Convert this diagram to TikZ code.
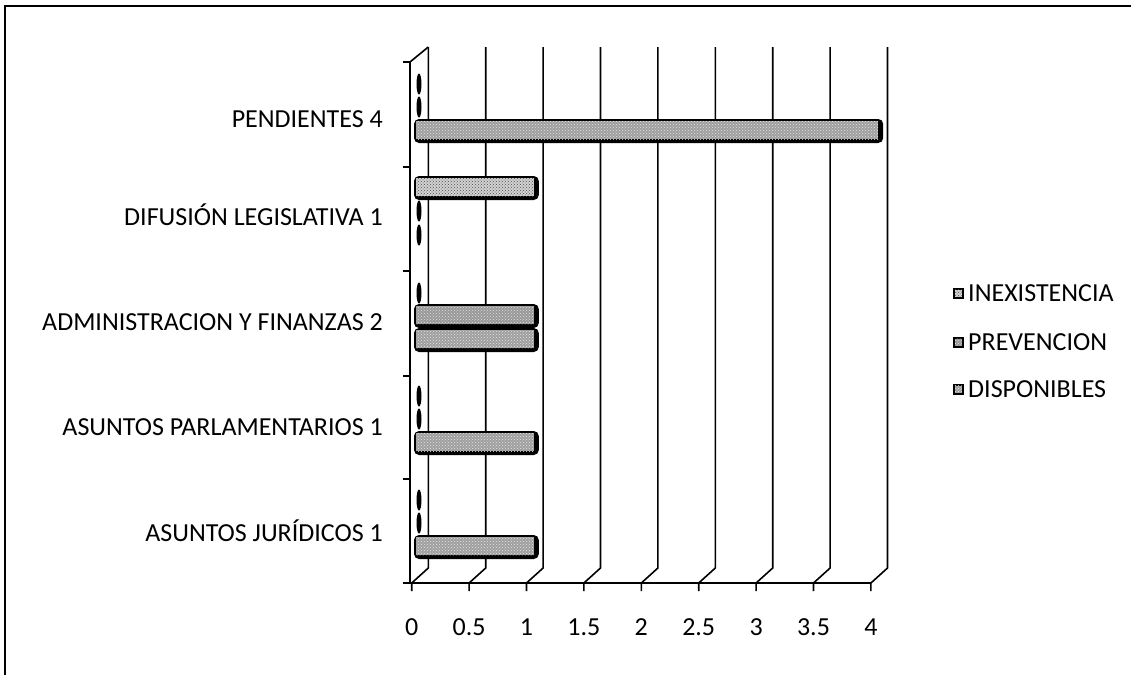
\documentclass[tikz,border=0pt]{standalone}
\usepackage{fontspec}
\setmainfont{Carlito}
\usetikzlibrary{patterns}

\newcommand{\barra}[3]{%
    \fill[black,rounded corners=5pt](414,#1-12)rectangle(424+114.8*#2,#1+12);
    \fill[#3](416,#1-10)rectangle(419+114.8*#2,#1+8);
}

\begin{document}
\begin{tikzpicture}[x=1pt,y=-1pt,
    lbl/.style={font=\fontsize{26}{31}\selectfont,inner sep=0pt},
    grid/.style={line width=1.6pt},
    inex/.style={fill=gray!35,postaction={pattern=crosshatch dots,pattern color=black!70}},
    prev/.style={fill=gray!80,postaction={pattern=crosshatch dots,pattern color=gray!25}},
    disp/.style={fill=gray!75,postaction={pattern=crosshatch dots,pattern color=gray!20}}]
    \useasboundingbox(0,0)rectangle(1131,675);
    \draw[line width=2pt](5,675)--(5,6)--(1131,6);
    % walls and grid
    \foreach \k in {0,...,8}
        \draw[grid](428.3+57.4*\k,47)--(428.3+57.4*\k,568)--(411.7+57.4*\k,583)--(411.7+57.4*\k,591);
    \draw[grid](428.3,47)--(410,62)--(410,583);
    \draw[grid](403,583)--(871,583);
    \foreach \y in {62,167,271,376,479}
        \draw[grid](403,\y)--(410,\y);
    \foreach \k/\v in {0/0,1/0.5,2/1,3/1.5,4/2,5/2.5,6/3,7/3.5,8/4}
        \node[lbl,anchor=base](t\k) at (411.7+57.4*\k,635){\v};
    % categories
    \node[lbl,anchor=base east](pend) at (383,127){PENDIENTES 4};
    \node[lbl,anchor=base east](difu) at (383,225){DIFUSIÓN LEGISLATIVA 1};
    \node[lbl,anchor=base east](admin) at (383,330){ADMINISTRACION Y FINANZAS 2};
    \node[lbl,anchor=base east](parl) at (383,435){ASUNTOS PARLAMENTARIOS 1};
    \node[lbl,anchor=base east](jur) at (383,541){ASUNTOS JURÍDICOS 1};
    % bars
    \barra{131}{4}{disp}
    \barra{188}{1}{inex}
    \barra{316}{1}{prev}
    \barra{340}{1}{disp}
    \barra{443}{1}{disp}
    \barra{547}{1}{disp}
    % zero values
    \foreach \y in {84,107,211,235,293,396,419,500,523}
        \fill(419,\y)ellipse(2.5pt and 10.5pt);
    % legend
    \foreach \y/\s/\t/\n in {293/inex/INEXISTENCIA/linex,342/prev/PREVENCION/lprev,389/disp/DISPONIBLES/ldisp}{
        \fill[black](952.5,\y-5.5)rectangle(963.5,\y+5.5);
        \fill[\s](954.5,\y-3.5)rectangle(961.5,\y+3.5);
        \node[lbl,anchor=base west](\n) at (968,\y+8.5){\t};
    }
\end{tikzpicture}
\end{document}
